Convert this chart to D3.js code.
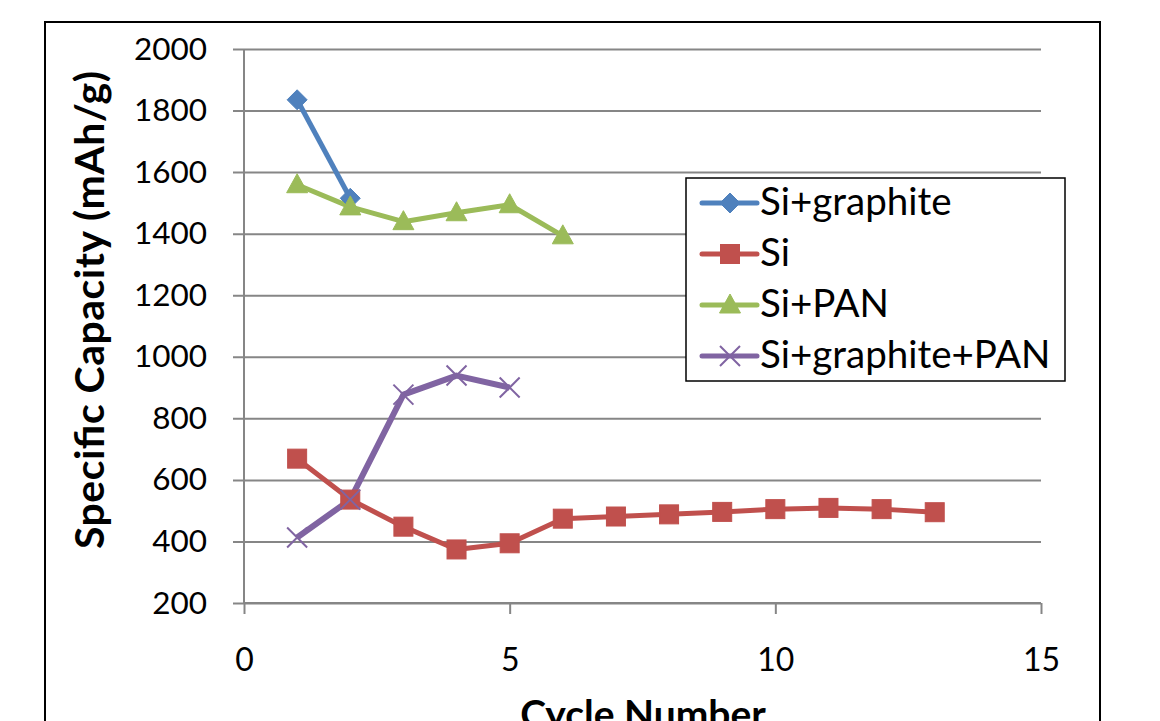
<!DOCTYPE html>
<html>
<head>
<meta charset="utf-8">
<script src="https://cdn.jsdelivr.net/npm/d3@7"></script>
<style>
  html, body { margin: 0; padding: 0; background: #fff; }
  svg { display: block; font-family: Lato, "Noto Sans", sans-serif; }
</style>
</head>
<body>
<svg id="chart" width="1160" height="721"></svg>
<script>
// Specific capacity per cycle for each electrode composition
const siGraphiteCycles = [1, 2];
const siGraphiteValues = [1835, 1515];

const siCycles = [1, 2, 3, 4, 5, 6, 7, 8, 9, 10, 11, 12, 13];
const siValues = [669, 536, 448, 374, 394, 474, 481, 488, 496, 505, 509, 505, 495];

const siPanCycles = [1, 2, 3, 4, 5, 6];
const siPanValues = [1559, 1487, 1439, 1468, 1494, 1393];

const siGraphitePanCycles = [1, 2, 3, 4, 5];
const siGraphitePanValues = [413, 536, 877, 939, 900];

const yTicks = [200, 400, 600, 800, 1000, 1200, 1400, 1600, 1800, 2000];
const xTicks = [0, 5, 10, 15];

const seriesNames = ["Si+graphite", "Si", "Si+PAN", "Si+graphite+PAN"];
const seriesColors = ["#4F81BD", "#C0504D", "#9BBB59", "#8064A2"];
const seriesMarkers = ["diamond", "square", "triangle", "cross"];
const seriesCycles = [siGraphiteCycles, siCycles, siPanCycles, siGraphitePanCycles];
const seriesValues = [siGraphiteValues, siValues, siPanValues, siGraphitePanValues];

const series = seriesNames.map((name, i) => ({
  name,
  color: seriesColors[i],
  marker: seriesMarkers[i],
  points: seriesCycles[i].map((c, j) => ({ x: c, y: seriesValues[i][j] }))
}));

const svg = d3.select("#chart");

// chart frame
svg.append("rect")
  .attr("x", 45).attr("y", 22)
  .attr("width", 1055).attr("height", 740)
  .attr("fill", "#fff").attr("stroke", "#000").attr("stroke-width", 2);

const plot = { left: 244, right: 1041, top: 49, bottom: 603 };

const x = d3.scaleLinear().domain([0, 15]).range([plot.left, plot.right]);
const y = d3.scaleLinear().domain([200, 2000]).range([plot.bottom, plot.top]);

const gridColor = "#868686";

// horizontal gridlines with left ticks
const yAxis = d3.axisLeft(y).tickValues(yTicks).tickSize(-(plot.right - plot.left)).tickPadding(37).tickFormat(d3.format("d"));
const gy = svg.append("g").attr("transform", `translate(${plot.left},0)`).call(yAxis);
gy.select(".domain").remove();
gy.selectAll(".tick line").attr("stroke", gridColor).attr("stroke-width", 2).attr("x1", -11);
gy.selectAll(".tick text").attr("font-size", 31.5).attr("fill", "#000").attr("font-family", "Lato");

// vertical axis line
svg.append("line")
  .attr("x1", plot.left).attr("x2", plot.left)
  .attr("y1", plot.top).attr("y2", plot.bottom)
  .attr("stroke", gridColor).attr("stroke-width", 2);

// x axis with downward ticks
const gx = svg.append("g").attr("transform", `translate(0,${plot.bottom})`)
  .call(d3.axisBottom(x).tickValues(xTicks).tickSize(11).tickPadding(34).tickFormat(d3.format("d")));
gx.select(".domain").attr("stroke", gridColor).attr("stroke-width", 2).attr("d", `M${plot.left},0H${plot.right}`);
gx.selectAll(".tick line").attr("stroke", gridColor).attr("stroke-width", 2);
gx.selectAll(".tick text").attr("font-size", 32).attr("fill", "#000").attr("font-family", "Lato");

// axis titles
svg.append("text")
  .attr("transform", `translate(104,310) rotate(-90)`)
  .attr("text-anchor", "middle")
  .attr("font-size", 41).attr("font-weight", "bold").attr("fill", "#000")
  .attr("textLength", 478).attr("lengthAdjust", "spacing")
  .text("Specific Capacity (mAh/g)");

svg.append("text")
  .attr("x", 643).attr("y", 728)
  .attr("text-anchor", "middle")
  .attr("font-size", 39).attr("font-weight", "bold").attr("fill", "#000")
  .text("Cycle Number");

// marker drawing
function drawMarker(sel, type, color) {
  if (type === "diamond") {
    sel.append("path").attr("d", "M0,-10L10,0L0,10L-10,0Z").attr("fill", color).attr("stroke", color).attr("stroke-width", 1);
  } else if (type === "square") {
    sel.append("rect").attr("x", -9.5).attr("y", -9.5).attr("width", 19).attr("height", 19)
      .attr("fill", color).attr("stroke", color).attr("stroke-width", 1);
  } else if (type === "triangle") {
    sel.append("path").attr("d", "M0,-11L10.5,8L-10.5,8Z").attr("fill", color).attr("stroke", color).attr("stroke-width", 1);
  } else if (type === "cross") {
    sel.append("path").attr("d", "M-10,-10L10,10M-10,10L10,-10").attr("stroke", color).attr("stroke-width", 2).attr("fill", "none");
  }
}

const line = d3.line().x(d => x(d.x)).y(d => y(d.y));

// series lines and markers
const lineWidths = [5, 5, 5, 6];
series.forEach((s, i) => {
  svg.append("path")
    .datum(s.points)
    .attr("d", line)
    .attr("fill", "none")
    .attr("stroke", s.color)
    .attr("stroke-width", lineWidths[i])
    .attr("stroke-linejoin", "round");
});
series.forEach(s => {
  s.points.forEach(p => {
    const g = svg.append("g").attr("transform", `translate(${x(p.x)},${y(p.y)})`);
    drawMarker(g, s.marker, s.color);
  });
});

// legend
const legend = svg.append("g");
legend.append("rect")
  .attr("x", 686).attr("y", 178).attr("width", 379).attr("height", 203)
  .attr("fill", "#fff").attr("stroke", "#000").attr("stroke-width", 1.5);

const legendRowY = [203, 254, 305, 356];
series.forEach((s, i) => {
  const row = legend.append("g").attr("transform", `translate(0,${legendRowY[i]})`);
  row.append("line").attr("x1", 702).attr("x2", 757).attr("y1", 0).attr("y2", 0)
    .attr("stroke", s.color).attr("stroke-width", 5).attr("stroke-linecap", "round");
  const m = row.append("g").attr("transform", "translate(730,0)");
  drawMarker(m, s.marker, s.color);
  row.append("text").attr("x", 760).attr("y", 12)
    .attr("font-size", 38.5).attr("fill", "#000").attr("font-family", "Lato")
    .text(s.name);
});
</script>
</body>
</html>
